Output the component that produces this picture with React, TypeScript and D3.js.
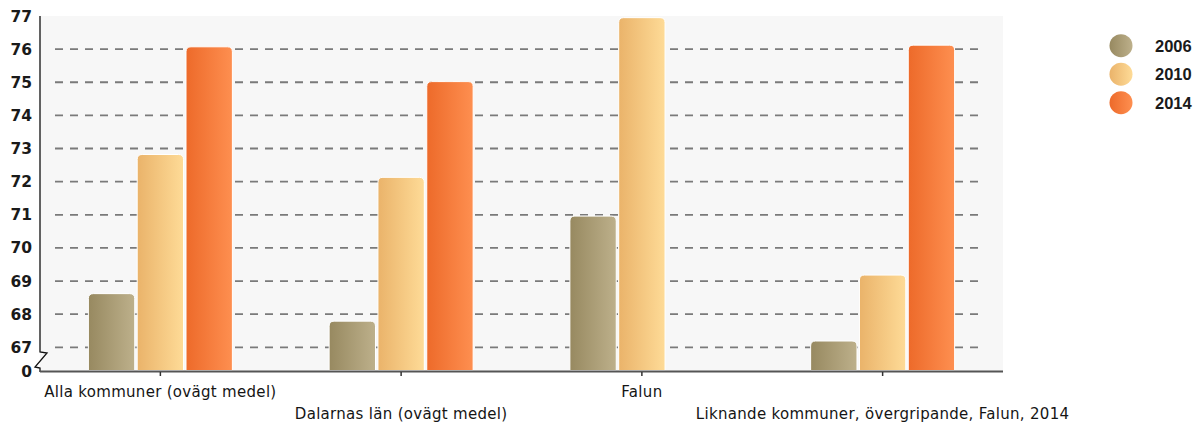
import React from "react";
import * as d3 from "d3";

const categories = [
  "Alla kommuner (ovägt medel)",
  "Dalarnas län (ovägt medel)",
  "Falun",
  "Liknande kommuner, övergripande, Falun, 2014",
];
const years = ["2006", "2010", "2014"];
const values2006 = [68.62, 67.79, 70.96, 67.19];
const values2010 = [72.82, 72.13, 76.95, 69.18];
const values2014: (number | null)[] = [76.07, 75.02, null, 76.12];
const yTicks = [67, 68, 69, 70, 71, 72, 73, 74, 75, 76, 77];

const seriesValues = [values2006, values2010, values2014];
const gradients = [
  ["#978960", "#bdb08b"],
  ["#eab36a", "#fedb97"],
  ["#ed6a2a", "#fe8f50"],
];

const W = 1199;
const H = 423;
const left = 40;
const right = 1003;
const top = 16;
const baseY = 371;

export default function App() {
  const x0 = d3.scaleBand<string>().domain(categories).range([left, right]).padding(0);
  const bw = x0.bandwidth();
  const x1 = d3
    .scaleBand<string>()
    .domain(years)
    .range([bw / 2 - 72, bw / 2 + 72])
    .paddingInner(0.05);
  const y = d3.scaleLinear().domain([67, 77]).range([347.3, top]);

  const barPath = (x: number, yTop: number, w: number, r: number) => {
    const b = baseY - 0.5;
    return `M${x},${b} L${x},${yTop + r} Q${x},${yTop} ${x + r},${yTop} L${x + w - r},${yTop} Q${x + w},${yTop} ${x + w},${yTop + r} L${x + w},${b} Z`;
  };

  return (
    <svg width={W} height={H} style={{ display: "block", position: "absolute", left: 0, top: 0 }}>
      <defs>
        {gradients.map((g, i) => (
          <linearGradient key={i} id={`g${i}`} x1="0" x2="1" y1="0" y2="0">
            <stop offset="0" stopColor={g[0]} />
            <stop offset="1" stopColor={g[1]} />
          </linearGradient>
        ))}
      </defs>
      <rect x={left} y={top} width={right - left} height={baseY - top} fill="#f7f7f7" />
      {yTicks
        .filter((t) => t < 77)
        .map((t) => (
          <line
            key={t}
            x1={55}
            x2={985}
            y1={y(t)}
            y2={y(t)}
            stroke="#7a7a7a"
            strokeWidth={1.8}
            strokeDasharray="8,7"
          />
        ))}
      {categories.map((c, ci) =>
        years.map((yr, si) => {
          const v = seriesValues[si][ci];
          if (v == null) return null;
          const bx = (x0(c) ?? 0) + (x1(yr) ?? 0);
          return (
            <path
              key={c + yr}
              d={barPath(bx, y(v), x1.bandwidth(), 5)}
              fill={`url(#g${si})`}
              stroke="#ffffff"
              strokeWidth={1}
            />
          );
        })
      )}
      {/* y axis with break */}
      <path
        d={`M${left},${top} V352 L47,353 L35,367 L40,368 V${baseY + 1}`}
        fill="none"
        stroke="#111"
        strokeWidth={1.3}
      />
      <line x1={left} x2={right} y1={baseY + 0.5} y2={baseY + 0.5} stroke="#555" strokeWidth={2} />
      {categories.map((c) => {
        const cx = (x0(c) ?? 0) + bw / 2;
        return <line key={c} x1={cx} x2={cx} y1={baseY + 1} y2={baseY + 5} stroke="#333" strokeWidth={1.5} />;
      })}
      {yTicks.map((t) => (
        <text
          key={t}
          x={32}
          y={y(t)}
          dy="0.36em"
          textAnchor="end"
          fontFamily="'DejaVu Sans', sans-serif"
          fontWeight="bold"
          fontSize={15.5}
          fill="#1a1a1a"
        >
          {t}
        </text>
      ))}
      <text
        x={32}
        y={baseY}
        dy="0.36em"
        textAnchor="end"
        fontFamily="'DejaVu Sans', sans-serif"
        fontWeight="bold"
        fontSize={15.5}
        fill="#1a1a1a"
      >
        0
      </text>
      {categories.map((c, i) => (
        <text
          key={c}
          x={(x0(c) ?? 0) + bw / 2}
          y={i % 2 === 0 ? 397 : 419}
          textAnchor="middle"
          fontFamily="'DejaVu Sans', sans-serif"
          fontSize={15}
          fontWeight={500}
          letterSpacing={0.3}
          fill="#151515"
        >
          {c}
        </text>
      ))}
      {years.map((yr, i) => (
        <g key={yr} transform={`translate(0,${45.7 + i * 28.5})`}>
          <circle cx={1121} cy={0} r={11.5} fill={`url(#g${i})`} />
          <text
            x={1155}
            y={0}
            dy="0.36em"
            fontFamily="'Liberation Sans', sans-serif"
            fontWeight="bold"
            fontSize={16.5}
            fill="#1a1a1a"
          >
            {yr}
          </text>
        </g>
      ))}
    </svg>
  );
}
